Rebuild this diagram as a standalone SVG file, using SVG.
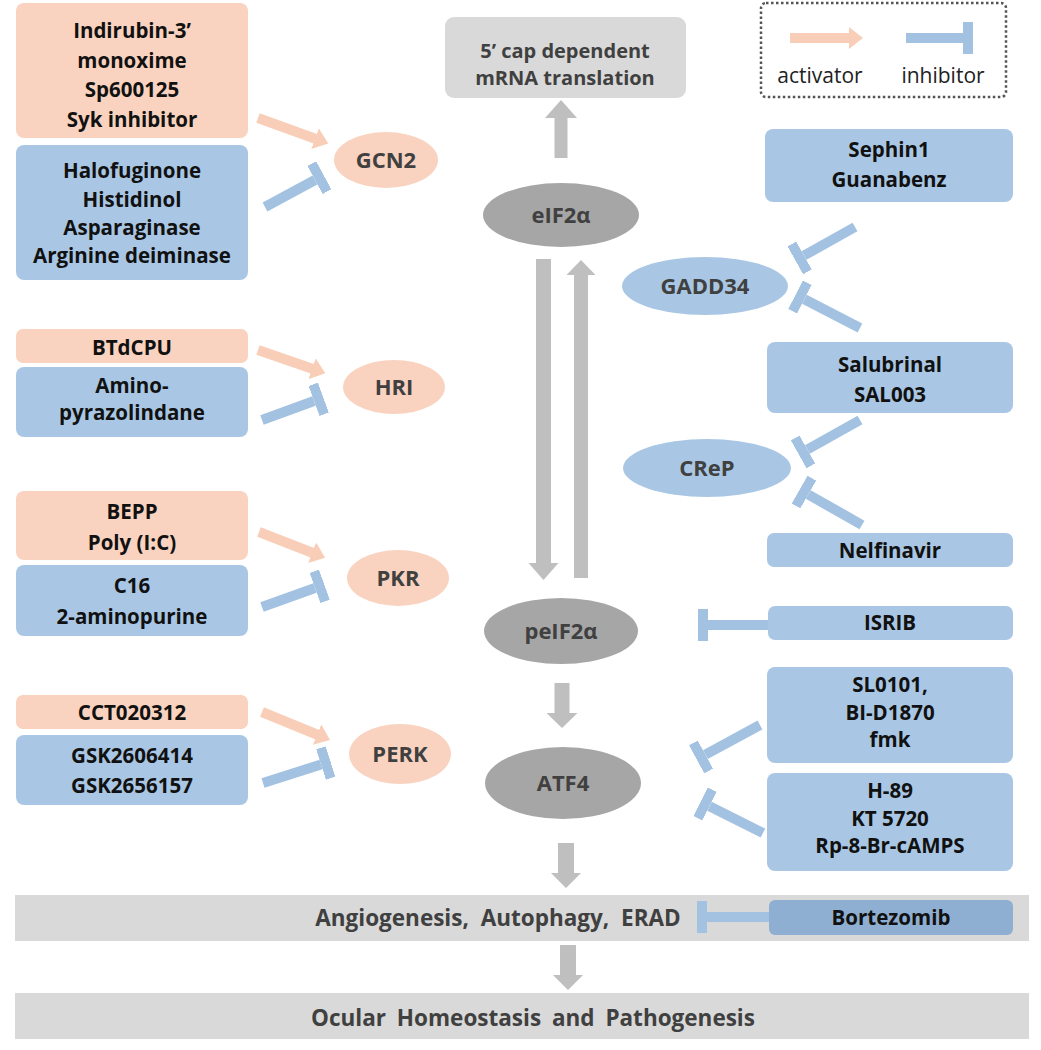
<svg xmlns="http://www.w3.org/2000/svg" width="1041" height="1050" viewBox="0 0 1041 1050">
<defs>
<style>
.pch{fill:#F9D3BF}
.blu{fill:#A9C7E4}
.dblu{fill:#8FAFD2}
.gbox{fill:#D9D9D9}
.gel{fill:#A6A6A6}
.garr{fill:#BFBFBF}
.bt{font-family:"Open Sans","Liberation Sans",sans-serif;font-weight:bold;font-size:20.5px;fill:#111;text-anchor:middle}
.nt{font-family:"Open Sans","Liberation Sans",sans-serif;font-weight:bold;font-size:22px;fill:#404040;text-anchor:middle}
.gt{font-family:"Open Sans","Liberation Sans",sans-serif;font-weight:bold;font-size:20px;fill:#404040;text-anchor:middle}
.bt2{font-family:"Open Sans","Liberation Sans",sans-serif;font-weight:bold;font-size:22.5px;fill:#404040;text-anchor:middle}
.lt{font-family:"Open Sans","Liberation Sans",sans-serif;font-size:21px;fill:#222;text-anchor:middle}
.act{stroke:#F9CEB8;stroke-width:10;fill:none;marker-end:url(#mAct)}
.inh{stroke:#A3C2E2;stroke-width:10;fill:none;marker-end:url(#mInh)}
</style>
<marker id="mAct" markerUnits="userSpaceOnUse" viewBox="0 0 14 22" markerWidth="14" markerHeight="22" refX="1" refY="11" orient="auto"><path d="M0,0 L14,11 L0,22 z" fill="#F9CEB8"/></marker>
<marker id="mInh" markerUnits="userSpaceOnUse" viewBox="0 0 10 32" markerWidth="10" markerHeight="32" refX="0" refY="16" orient="auto"><rect x="0" y="0" width="10" height="32" fill="#A3C2E2"/></marker>
</defs>
<rect width="1041" height="1050" fill="#fff"/>

<g id="outcomes"><rect class="gbox" x="15" y="895" width="1014" height="46"/><text class="bt2" x="498" y="926" word-spacing="6">Angiogenesis, Autophagy, ERAD</text></g>
<g id="ocular"><rect class="gbox" x="15" y="993" width="1014" height="46"/><text class="bt2" x="533" y="1026" word-spacing="5">Ocular Homeostasis and Pathogenesis</text></g>

<g id="legend">
<rect x="761" y="3" width="245" height="94" rx="5" fill="none" stroke="#555" stroke-width="2.5" stroke-dasharray="2.5 2.5"/>
<line class="act" x1="790" y1="38" x2="850" y2="38"/>
<line class="inh" x1="906" y1="38" x2="963" y2="38"/>
<text class="lt" x="820" y="83">activator</text>
<text class="lt" x="943" y="83">inhibitor</text>
</g>

<g id="connectors">
<polygon class="garr" points="554.5,158 567.5,158 567.5,118 577,118 561,100 545,118 554.5,118"/>
<polygon class="garr" points="536,259 551,259 551,563 558.5,563 543.5,580 528.5,563 536,563"/>
<polygon class="garr" points="574,578 588,578 588,275 595.5,275 581,260 566.5,275 574,275"/>
<polygon class="garr" points="554.5,683 569.5,683 569.5,713 577.5,713 562,728 546.5,713 554.5,713"/>
<polygon class="garr" points="558,843 574,843 574,873 581,873 566,888 551,873 558,873"/>
<polygon class="garr" points="560,945 576,945 576,975 583,975 568,990 553,975 560,975"/>
<line class="act" x1="258" y1="118" x2="316" y2="139"/>
<line class="inh" x1="265" y1="207" x2="315" y2="180"/>
<line class="act" x1="258" y1="350" x2="313" y2="369"/>
<line class="inh" x1="262" y1="420" x2="314" y2="401"/>
<line class="act" x1="259" y1="532" x2="313" y2="553"/>
<line class="inh" x1="262" y1="607" x2="315" y2="588"/>
<line class="act" x1="262" y1="712" x2="318" y2="735"/>
<line class="inh" x1="263" y1="783" x2="321" y2="764.5"/>
<line class="inh" x1="855" y1="227" x2="804" y2="255.5"/>
<line class="inh" x1="860" y1="328" x2="804.4" y2="299.3"/>
<line class="inh" x1="860" y1="420" x2="807.4" y2="449.5"/>
<line class="inh" x1="862" y1="525" x2="808.3" y2="494.5"/>
<line class="inh" x1="768" y1="625" x2="708" y2="625"/>
<line class="inh" x1="760" y1="725" x2="705.4" y2="754.6"/>
<line class="inh" x1="763" y1="833" x2="709.5" y2="806.2"/>
<line class="inh" x1="769" y1="917" x2="707" y2="917" stroke-width="12"/>
</g>

<g id="cap">
<rect class="gbox" x="445" y="17" width="241" height="81" rx="9"/>
<text class="gt" x="565" y="58">5’ cap dependent</text>
<text class="gt" x="565" y="85">mRNA translation</text>
</g>

<g id="gcn2-act">
<rect class="pch" x="16" y="3" width="232" height="135" rx="8"/>
<text class="bt" x="132" y="38">Indirubin-3’</text>
<text class="bt" x="132" y="68">monoxime</text>
<text class="bt" x="132" y="97">Sp600125</text>
<text class="bt" x="132" y="127">Syk inhibitor</text>
</g>
<g id="gcn2-inh">
<rect class="blu" x="16" y="145" width="232" height="135" rx="8"/>
<text class="bt" x="132" y="178">Halofuginone</text>
<text class="bt" x="132" y="207">Histidinol</text>
<text class="bt" x="132" y="235">Asparaginase</text>
<text class="bt" x="132" y="263">Arginine deiminase</text>
</g>
<g id="gcn2"><ellipse class="pch" cx="386" cy="160" rx="52" ry="28"/><text class="nt" x="386" y="168">GCN2</text></g>

<g id="hri-act"><rect class="pch" x="16" y="329" width="232" height="34" rx="7"/><text class="bt" x="132" y="355">BTdCPU</text></g>
<g id="hri-inh"><rect class="blu" x="16" y="367" width="232" height="70" rx="8"/><text class="bt" x="132" y="393">Amino-</text><text class="bt" x="132" y="420">pyrazolindane</text></g>
<g id="hri"><ellipse class="pch" cx="394" cy="387" rx="51" ry="27"/><text class="nt" x="394" y="395">HRI</text></g>

<g id="pkr-act"><rect class="pch" x="16" y="491" width="232" height="69" rx="8"/><text class="bt" x="132" y="519">BEPP</text><text class="bt" x="132" y="550">Poly (I:C)</text></g>
<g id="pkr-inh"><rect class="blu" x="16" y="565" width="232" height="71" rx="8"/><text class="bt" x="132" y="593">C16</text><text class="bt" x="132" y="624">2-aminopurine</text></g>
<g id="pkr"><ellipse class="pch" cx="398" cy="578" rx="51" ry="28"/><text class="nt" x="398" y="586">PKR</text></g>

<g id="perk-act"><rect class="pch" x="16" y="695" width="232" height="34" rx="7"/><text class="bt" x="132" y="720">CCT020312</text></g>
<g id="perk-inh"><rect class="blu" x="16" y="735" width="232" height="70" rx="8"/><text class="bt" x="132" y="763">GSK2606414</text><text class="bt" x="132" y="793">GSK2656157</text></g>
<g id="perk"><ellipse class="pch" cx="400" cy="754" rx="51" ry="30"/><text class="nt" x="400" y="762">PERK</text></g>

<g id="eif2a"><ellipse class="gel" cx="561" cy="215" rx="78" ry="32"/><text class="nt" x="561" y="223">eIF2α</text></g>
<g id="peif2a"><ellipse class="gel" cx="561" cy="631" rx="77" ry="33"/><text class="nt" x="561" y="639">peIF2α</text></g>
<g id="atf4"><ellipse class="gel" cx="563" cy="783" rx="78" ry="36"/><text class="nt" x="563" y="791">ATF4</text></g>

<g id="sephin"><rect class="blu" x="765" y="129" width="248" height="73" rx="8"/><text class="bt" x="889" y="157">Sephin1</text><text class="bt" x="889" y="187">Guanabenz</text></g>
<g id="gadd34"><ellipse class="blu" cx="705" cy="286" rx="83" ry="29"/><text class="nt" x="705" y="294">GADD34</text></g>
<g id="salubrinal"><rect class="blu" x="767" y="342" width="246" height="71" rx="8"/><text class="bt" x="890" y="372">Salubrinal</text><text class="bt" x="890" y="402">SAL003</text></g>
<g id="crep"><ellipse class="blu" cx="707" cy="468" rx="84" ry="29"/><text class="nt" x="707" y="476">CReP</text></g>
<g id="nelfinavir"><rect class="blu" x="767" y="533" width="246" height="34" rx="7"/><text class="bt" x="890" y="558">Nelfinavir</text></g>
<g id="isrib"><rect class="blu" x="768" y="606" width="245" height="34" rx="7"/><text class="bt" x="890" y="630">ISRIB</text></g>
<g id="sl0101"><rect class="blu" x="767" y="667" width="246" height="96" rx="8"/><text class="bt" x="890" y="692">SL0101,</text><text class="bt" x="890" y="720">BI-D1870</text><text class="bt" x="890" y="747">fmk</text></g>
<g id="h89"><rect class="blu" x="767" y="773" width="246" height="98" rx="8"/><text class="bt" x="890" y="798">H-89</text><text class="bt" x="890" y="826">KT 5720</text><text class="bt" x="890" y="853">Rp-8-Br-cAMPS</text></g>

<g id="bortezomib"><rect class="dblu" x="769" y="900" width="244" height="35" rx="6"/><text class="bt" x="891" y="925">Bortezomib</text></g>
</svg>
